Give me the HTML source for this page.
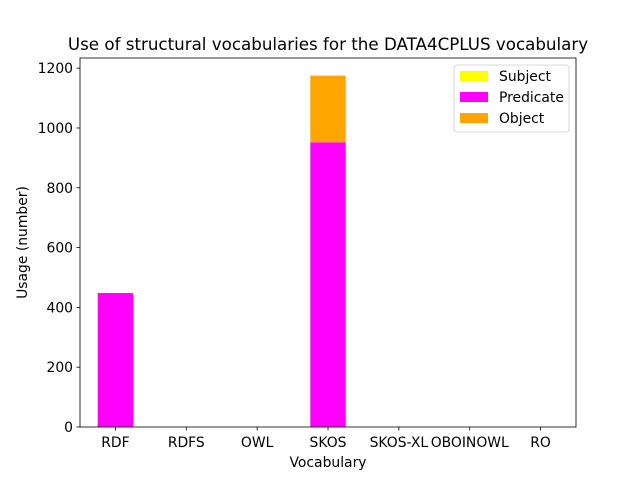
<!DOCTYPE html>
<html><head><meta charset="utf-8"><style>
body{margin:0;background:#fff;font-family:"Liberation Sans","DejaVu Sans",sans-serif}
svg text{font-family:"DejaVu Sans","Liberation Sans",sans-serif}
</style></head><body>
<svg id="chart" width="640" height="480"></svg>
<script>
const categories=["RDF","RDFS","OWL","SKOS","SKOS-XL","OBOINOWL","RO"];
const subjectVals=[0,0,0,0,0,0,0];
const predicateVals=[448,0,0,952,0,0,0];
const objectVals=[0,0,0,223,0,0,0];
const yTicks=[0,200,400,600,800,1000,1200];
const seriesNames=["Subject","Predicate","Object"];
const seriesColors=["#ffff00","#ff00ff","#ffa500"];

const L=80,R=576,T=58,B=427,yMax=1234;
const NS="http://www.w3.org/2000/svg";
const svg=document.getElementById('chart');
function y(v){return B-(v/yMax)*(B-T);}
function x(i){return L+(i+0.5)*(R-L)/categories.length;}
const bw=0.5*(R-L)/categories.length;
function mk(tag,attrs,parent){const e=document.createElementNS(NS,tag);for(const k in attrs)e.setAttribute(k,attrs[k]);(parent||svg).appendChild(e);return e;}

const t=mk('text',{x:328,y:50,'text-anchor':'middle','font-size':16.7,fill:'#000'});
t.textContent="Use of structural vocabularies for the DATA4CPLUS vocabulary";



const series=[subjectVals,predicateVals,objectVals];
categories.forEach((c,i)=>{
  let base=0;
  series.forEach((s,si)=>{
    const v=s[i];
    if(v>0){
      const r=mk('rect',{x:x(i)-bw/2,y:y(base+v),width:bw,height:y(base)-y(base+v),fill:seriesColors[si]});
      
      
    }
    base+=v;
  });
  mk('line',{x1:x(i),x2:x(i),y1:B,y2:B+3.5,stroke:'#000','stroke-width':0.8});
  const tl=mk('text',{x:x(i),y:B+20,'text-anchor':'middle','font-size':13.9,fill:'#000'});
  tl.textContent=c;
  
  
});
yTicks.forEach(v=>{
  mk('line',{x1:L-3.5,x2:L,y1:y(v),y2:y(v),stroke:'#000','stroke-width':0.8});
  const tl=mk('text',{x:L-7,y:y(v)+5,'text-anchor':'end','font-size':13.9,fill:'#000'});
  tl.textContent=v;
  
  
});
const ax=mk('rect',{x:L,y:T,width:R-L,height:B-T,fill:'none',stroke:'#000','stroke-width':0.8});


const xt=mk('text',{x:(L+R)/2,y:467,'text-anchor':'middle','font-size':13.9,fill:'#000'});
xt.textContent="Vocabulary";


const yt=mk('text',{x:0,y:0,'text-anchor':'middle','font-size':13.9,fill:'#000',transform:`translate(27,${(T+B)/2}) rotate(-90)`});
yt.textContent="Usage (number)";



const lg=mk('g',{});


mk('rect',{x:454,y:65,width:115,height:67,rx:3,fill:'#fff',stroke:'#ccc','stroke-width':0.8},lg);
seriesNames.forEach((n,i)=>{
  const yy=76+i*21;
  mk('rect',{x:460,y:yy-5,width:28,height:10,fill:seriesColors[i]},lg);
  const e=mk('text',{x:499,y:yy+5,'font-size':13.9,fill:'#000'},lg);
  e.textContent=n;
  
  
});
</script>
</body></html>
